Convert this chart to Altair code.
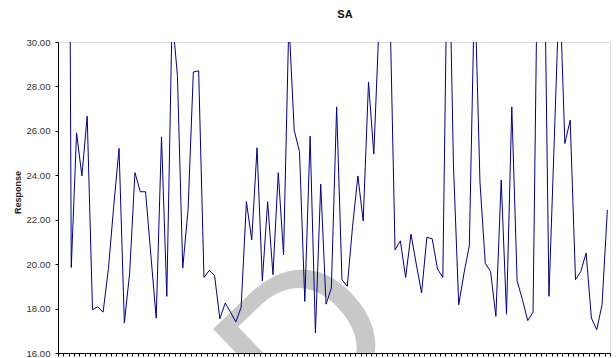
import altair as alt
import pandas as pd

# Response per sample (the first two readings sit far above the axis maximum)
response = [
    52.0, 72.0, 19.85, 25.91, 23.97, 26.66, 17.95, 18.08, 17.84, 19.8,
    22.6, 25.21, 17.35, 19.6, 24.12, 23.26, 23.26, 20.4, 17.57, 25.73,
    18.55, 31.2, 28.5, 19.82, 22.44, 28.65, 28.7, 19.4, 19.72, 19.49,
    17.54, 18.25, 17.84, 17.4, 18.05, 22.81, 21.09, 25.24, 19.25, 22.81,
    19.52, 24.12, 20.42, 31.0, 26.03, 25.06, 18.32, 25.76, 16.9, 23.6,
    18.2, 18.92, 27.08, 19.3, 19.0, 21.7, 23.97, 21.94, 28.2, 24.96,
    30.9, 32.5, 32.1, 20.64, 21.05, 19.4, 21.35, 20.0, 18.7, 21.21,
    21.14, 19.78, 19.4, 37.0, 24.5, 18.17, 19.6, 20.84, 32.7, 23.7,
    20.04, 19.67, 17.65, 23.79, 17.75, 27.08, 19.25, 18.4, 17.46, 17.84,
    37.0, 36.7, 18.55, 25.6, 32.7, 25.43, 26.48, 19.3, 19.67, 20.5,
    17.57, 17.05, 18.17, 22.44,
]
sample = list(range(1, len(response) + 1))

y_ticks = [16, 18, 20, 22, 24, 26, 28, 30]
x_ticks = [i + 0.5 for i in range(0, len(response) + 1)]

df = pd.DataFrame({"Sample": sample, "Response": response})

FONT = "Liberation Sans"

# faint stamp behind the series, clipped to the plot frame
stamp = alt.Chart(pd.DataFrame({"stamp": ["D"]})).mark_text(
    font=FONT,
    fontSize=210,
    angle=316,
    align="left",
    baseline="alphabetic",
    color="#c8c8c8",
    clip=True,
).encode(text="stamp:N", x=alt.value(243), y=alt.value(403))

line = alt.Chart(df).mark_line(
    color="#000080", strokeWidth=1, clip=True
).encode(
    x=alt.X(
        "Sample:Q",
        scale=alt.Scale(domain=[0.5, len(response) + 0.5], nice=False, zero=False),
        axis=alt.Axis(
            title=None,
            labels=False,
            values=x_ticks,
            tickSize=3,
            tickColor="black",
            domainColor="black",
            grid=False,
        ),
    ),
    y=alt.Y(
        "Response:Q",
        scale=alt.Scale(domain=[16, 30], nice=False, zero=False),
        axis=alt.Axis(
            title="Response",
            values=y_ticks,
            format=".2f",
            tickSize=3,
            tickColor="black",
            domainColor="black",
            labelFont=FONT,
            labelFontSize=9.6,
            labelColor="#333333",
            labelPadding=5,
            titleFont=FONT,
            titleFontSize=9,
            titleFontWeight="bold",
            titleColor="#222222",
            titleX=-41,
            titleY=150,
            titleAngle=270,
            titleAlign="center",
            titleBaseline="middle",
            grid=False,
        ),
    ),
)

chart = alt.layer(stamp, line).properties(
    width=552,
    height=311,
    autosize=alt.AutoSizeParams(type="none"),
    padding={"left": 58, "top": 42, "right": 6, "bottom": 5},
    title=alt.TitleParams(
        "SA",
        font=FONT,
        fontSize=11,
        fontWeight="bold",
        color="#111111",
        anchor="middle",
        frame="group",
        baseline="alphabetic",
        offset=8,
        dx=11,
    ),
).configure_view(stroke="#a0a0a0", strokeWidth=1).configure(background="white")

chart.save("out.html", embed_options={"renderer": "svg", "actions": False})
